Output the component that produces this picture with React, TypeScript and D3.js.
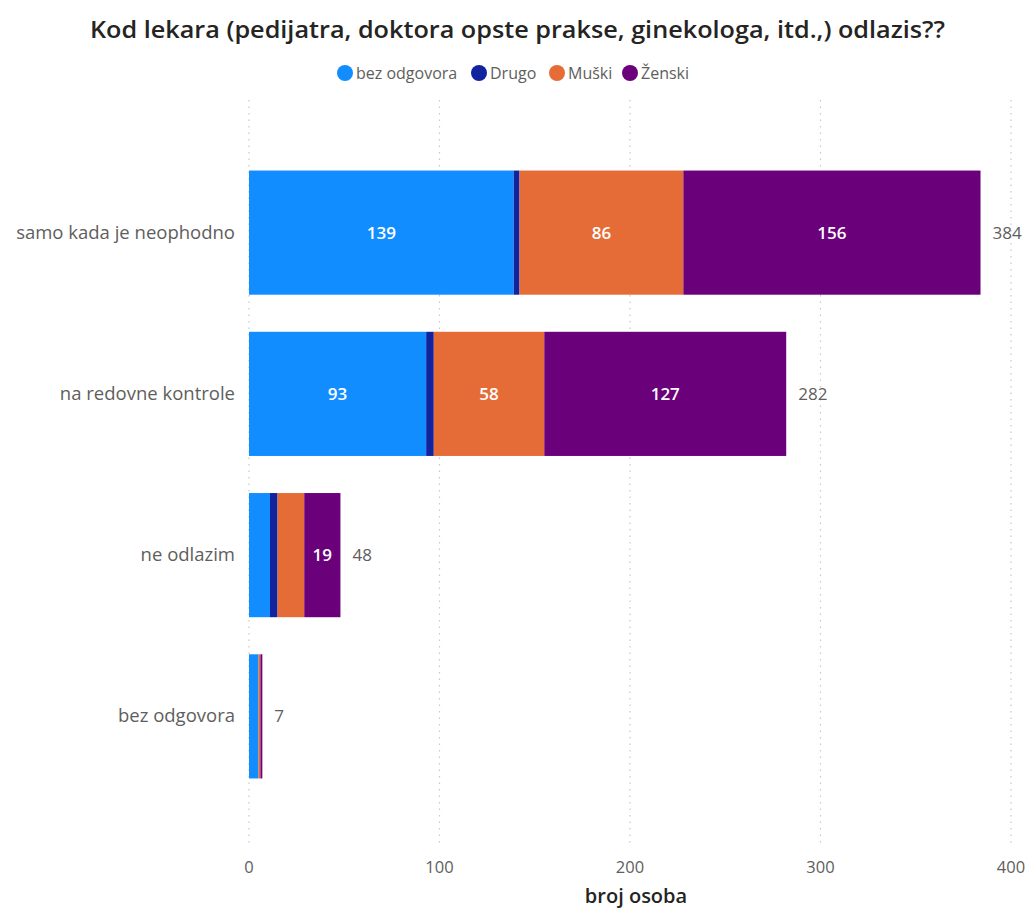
import React from "react";
import * as d3 from "d3";

const categories = ["samo kada je neophodno", "na redovne kontrole", "ne odlazim", "bez odgovora"];
const seriesNames = ["bez odgovora", "Drugo", "Muški", "Ženski"];
const bezOdgovora = [139, 93, 11, 5];
const drugo = [3, 4, 4, 0];
const muski = [86, 58, 14, 1];
const zenski = [156, 127, 19, 1];
const colors = ["#118DFF", "#12239E", "#E66C37", "#6B007B"];
const xTicks = [0, 100, 200, 300, 400];

const W = 1028, H = 908;
const FONT = "'Open Sans', 'Segoe UI', sans-serif";

export default function App() {
  const seriesVals = [bezOdgovora, drugo, muski, zenski];
  const rows = categories.map((c, i) => {
    const r: any = { cat: c };
    seriesNames.forEach((s, j) => (r[s] = seriesVals[j][i]));
    return r;
  });
  const stacked = d3.stack<any>().keys(seriesNames)(rows);
  const x = d3.scaleLinear().domain([0, 400]).range([249, 1011]);
  const y = d3.scaleBand().domain(categories).range([152, 797]).paddingInner(0.23).paddingOuter(0.115);
  const totals = categories.map((_, i) => seriesVals.reduce((a, s) => a + s[i], 0));

  const legendX = [345, 479, 557, 630];

  return (
    <svg width={W} height={H} style={{ position: "absolute", left: 0, top: 0, background: "#fff" }} fontFamily={FONT}>
      <text x={90} y={38} fontSize={22.5} fontWeight={600} fill="#252423" textLength={855} lengthAdjust="spacingAndGlyphs">
        Kod lekara (pedijatra, doktora opste prakse, ginekologa, itd.,) odlazis??
      </text>
      {seriesNames.map((s, j) => (
        <g key={s}>
          <circle cx={legendX[j]} cy={73} r={8} fill={colors[j]} />
          <text x={legendX[j] + 11} y={79} fontSize={16} fill="#605E5C">{s}</text>
        </g>
      ))}
      {xTicks.map((t) => (
        <g key={t}>
          <line x1={x(t)} x2={x(t)} y1={100} y2={846} stroke="#C8C8C8" strokeWidth={1.2} strokeDasharray="1.5,5" />
          <text x={x(t)} y={873} textAnchor="middle" fontSize={16.5} fill="#605E5C">{t}</text>
        </g>
      ))}
      <text x={636} y={903} textAnchor="middle" fontSize={20} fontWeight={600} fill="#252423">broj osoba</text>
      {categories.map((c) => (
        <text key={c} x={235} y={(y(c) as number) + y.bandwidth() / 2 + 6} textAnchor="end" fontSize={18.5} fill="#605E5C">{c}</text>
      ))}
      {stacked.map((layer, j) => (
        <g key={layer.key}>
          {layer.map((d, i) => {
            const x0 = x(d[0]), x1 = x(d[1]);
            const w = x1 - x0;
            const cy = (y(categories[i]) as number) + y.bandwidth() / 2;
            return (
              <g key={i}>
                {w > 0 && <rect x={x0} y={y(categories[i])} width={w} height={y.bandwidth()} fill={colors[j]} />}
                {w > 30 && (
                  <text x={(x0 + x1) / 2} y={cy + 6} textAnchor="middle" fontSize={17} fontWeight={600} fill="#fff">
                    {d[1] - d[0]}
                  </text>
                )}
              </g>
            );
          })}
        </g>
      ))}
      {categories.map((c, i) => (
        <text key={c} x={x(totals[i]) + 12} y={(y(c) as number) + y.bandwidth() / 2 + 6} fontSize={17} fill="#605E5C">{totals[i]}</text>
      ))}
    </svg>
  );
}
